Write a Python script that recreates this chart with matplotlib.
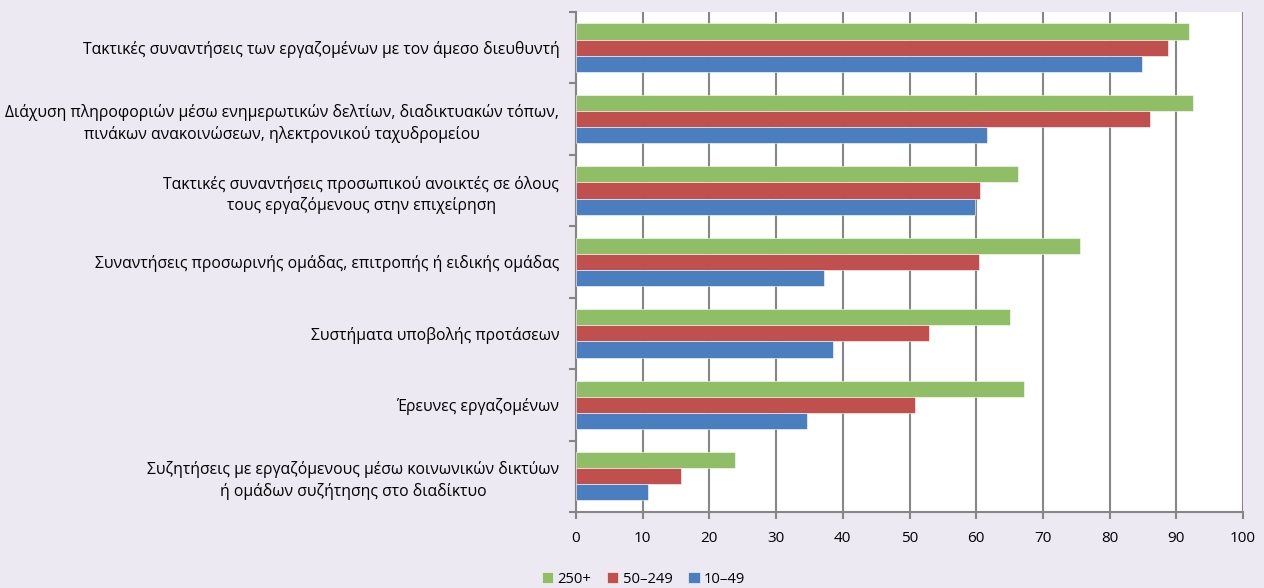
import numpy as np
import matplotlib
matplotlib.use("Agg")
import matplotlib.pyplot as plt

# Categories, listed top to bottom as they appear on the chart
categories = [
    "Τακτικές συναντήσεις των εργαζομένων με τον άμεσο διευθυντή",
    "Διάχυση πληροφοριών μέσω ενημερωτικών δελτίων, διαδικτυακών τόπων,\nπινάκων ανακοινώσεων, ηλεκτρονικού ταχυδρομείου",
    "Τακτικές συναντήσεις προσωπικού ανοικτές σε όλους\nτους εργαζόμενους στην επιχείρηση",
    "Συναντήσεις προσωρινής ομάδας, επιτροπής ή ειδικής ομάδας",
    "Συστήματα υποβολής προτάσεων",
    "Έρευνες εργαζομένων",
    "Συζητήσεις με εργαζόμενους μέσω κοινωνικών δικτύων\nή ομάδων συζήτησης στο διαδίκτυο",
]

# Share of establishments (%) by size class
size_250 = [91.9, 92.5, 66.3, 75.5, 65.0, 67.2, 23.9]
size_50_249 = [88.7, 86.0, 60.6, 60.4, 52.9, 50.8, 15.7]
size_10_49 = [84.8, 61.6, 59.8, 37.2, 38.6, 34.7, 10.8]

series_labels = ["250+", "50–249", "10–49"]
colors = ["#8FBE67", "#C0504D", "#4A7EBF"]

plt.rcParams["font.family"] = ["Open Sans", "DejaVu Sans"]

BG = "#ECE9F3"
fig = plt.figure(figsize=(12.64, 5.88), dpi=100, facecolor=BG)
ax = fig.add_axes([0.4557, 0.1293, 0.5277, 0.8503])
ax.set_facecolor("white")

n = len(categories)
pos = np.arange(n)
bar_h = 0.226
for k, (vals, lab, col) in enumerate(zip([size_250, size_50_249, size_10_49], series_labels, colors)):
    ax.barh(pos + (k - 1) * bar_h, vals, height=bar_h, color=col, label=lab,
            edgecolor="white", linewidth=0.4, zorder=3)

ax.set_xlim(0, 100)
ax.set_ylim(n - 0.5, -0.5)
ax.set_xticks(np.arange(0, 101, 10))
ax.tick_params(axis="x", length=5, width=1.5, color="#868686", labelsize=11, pad=9)
ax.grid(axis="x", color="#868686", linewidth=1.5, zorder=0)

# category labels in the middle, tick marks on the boundaries
ax.set_yticks(pos)
ax.set_yticklabels(categories, fontsize=11.3, multialignment="center", linespacing=1.35)
ax.tick_params(axis="y", length=0, pad=12)
ax.set_yticks(np.arange(-0.5, n, 1), minor=True)
ax.tick_params(axis="y", which="minor", length=5, width=1.5, color="#868686")

for side in ["top", "right"]:
    ax.spines[side].set_visible(False)
for side in ["left", "bottom"]:
    ax.spines[side].set_color("#868686")
    ax.spines[side].set_linewidth(1.5)

fig.legend(loc="lower center", bbox_to_anchor=(0.509, -0.02), ncol=3, frameon=False,
           fontsize=10.6, handlelength=0.75, handleheight=0.75, handletextpad=0.3,
           columnspacing=1.1)

fig.savefig("out.png", dpi=100, facecolor=BG)
